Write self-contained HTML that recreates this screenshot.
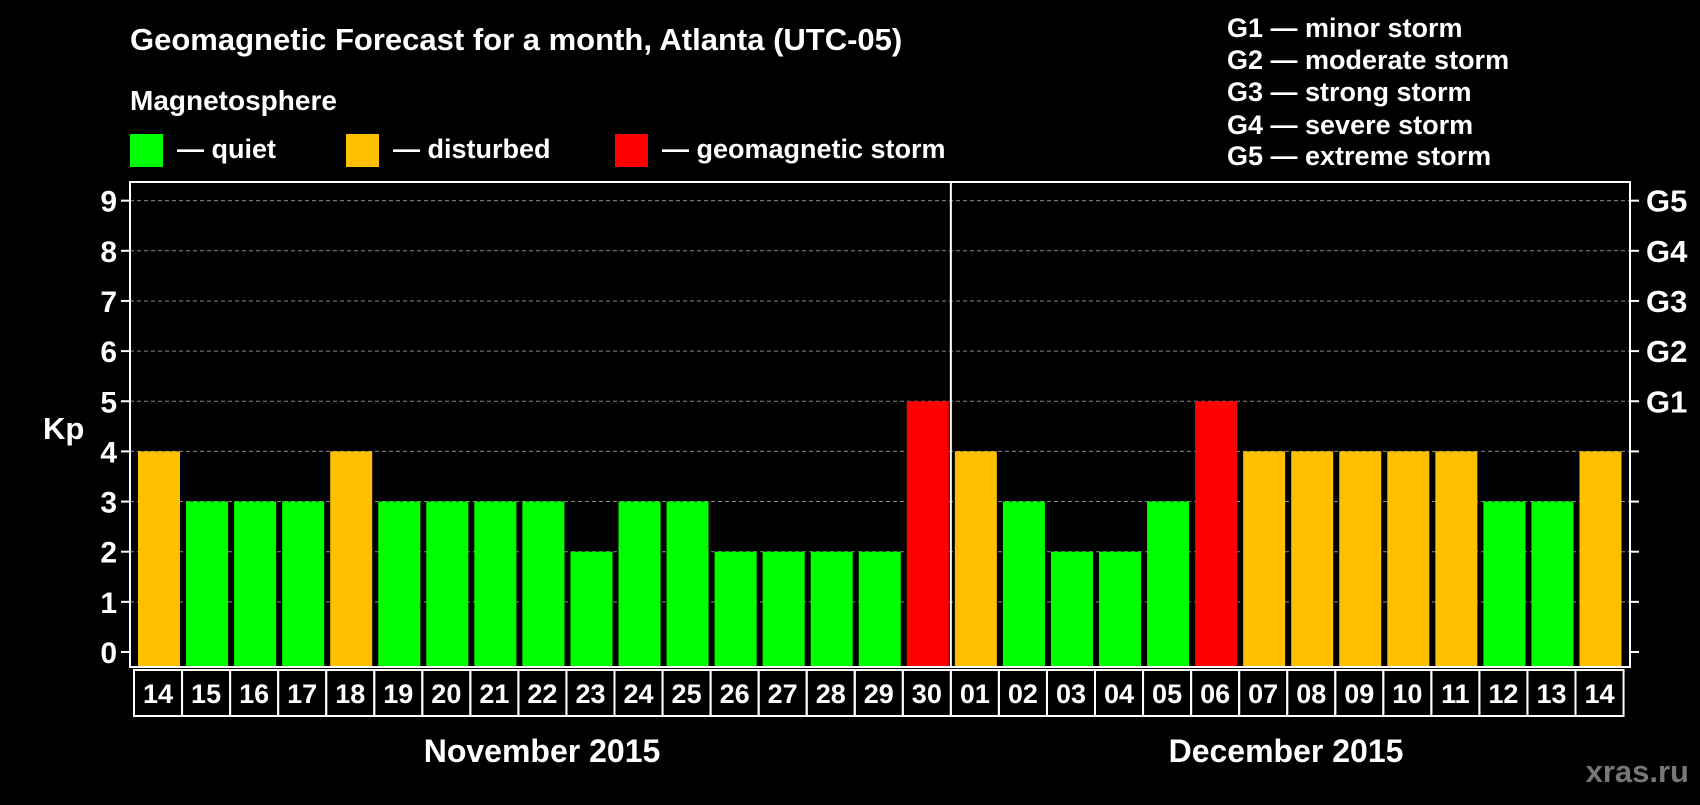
<!DOCTYPE html>
<html><head><meta charset="utf-8"><style>
body{margin:0;background:#000;width:1700px;height:800px;overflow:hidden}
svg text{font-family:"Liberation Sans",sans-serif;font-weight:bold;fill:#fff}
</style></head><body>
<svg id="chart" width="1700" height="800" xmlns="http://www.w3.org/2000/svg">
<rect width="1700" height="800" fill="#000"/>
<text x="130" y="50" font-size="31">Geomagnetic Forecast for a month, Atlanta (UTC-05)</text>
<text x="130" y="110" font-size="28">Magnetosphere</text>
<rect x="130" y="134" width="33" height="33" fill="#00ff00"/>
<text x="177" y="158" font-size="27">— quiet</text>
<rect x="346" y="134" width="33" height="33" fill="#ffc000"/>
<text x="393" y="158" font-size="27">— disturbed</text>
<rect x="615" y="134" width="33" height="33" fill="#ff0000"/>
<text x="662" y="158" font-size="27">— geomagnetic storm</text>
<g font-size="27">
<text x="1227" y="37">G1 — minor storm</text>
<text x="1227" y="69">G2 — moderate storm</text>
<text x="1227" y="101">G3 — strong storm</text>
<text x="1227" y="134">G4 — severe storm</text>
<text x="1227" y="165">G5 — extreme storm</text>
</g>
<text x="43" y="439" font-size="31">Kp</text>
<text x="542" y="762" font-size="32" text-anchor="middle">November 2015</text>
<text x="1286" y="762" font-size="32" text-anchor="middle">December 2015</text>
<text x="1689" y="782" font-size="31" text-anchor="end" style="fill:#777">xras.ru</text>
<g id="plot"></g>
</svg>
<script>
const days=["14","15","16","17","18","19","20","21","22","23","24","25","26","27","28","29","30","01","02","03","04","05","06","07","08","09","10","11","12","13","14"];
const kp=[4,3,3,3,4,3,3,3,3,2,3,3,2,2,2,2,5,4,3,2,2,3,5,4,4,4,4,4,3,3,4];
const yTicks=[0,1,2,3,4,5,6,7,8,9];
const gLabels=["G1","G2","G3","G4","G5"];
const L=130,R=1630,T=182,B=667,Y0=652,UNIT=50.15;
const n=days.length,pitch=48.05,BX0=134;
const y=v=>Y0-v*UNIT, x=i=>BX0+i*pitch;
const g=document.getElementById('plot');
const NS="http://www.w3.org/2000/svg";
function mk(t,a){const e=document.createElementNS(NS,t);for(const k in a)e.setAttribute(k,a[k]);g.appendChild(e);return e;}
yTicks.forEach(v=>{
 if(v>0){const l=mk('line',{x1:L,x2:R,y1:y(v),y2:y(v),stroke:'#888','stroke-dasharray':'4,3','stroke-width':1});
 
 }
 const t=mk('line',{x1:L-9,x2:L,y1:y(v),y2:y(v),stroke:'#fff','stroke-width':2});
 
 
 const t2=mk('line',{x1:R,x2:R+9,y1:y(v),y2:y(v),stroke:'#fff','stroke-width':2});
 
 
 const tx=mk('text',{x:L-13,y:y(v)+11,'font-size':30,'text-anchor':'end'});tx.textContent=v;
 
 
});
gLabels.forEach((s,i)=>{const tx=mk('text',{x:R+16,y:y(5+i)+11,'font-size':31});tx.textContent=s;
 
 });
kp.forEach((v,i)=>{
 const c=v>=5?'#ff0000':v>=4?'#ffc000':'#00ff00';
 const r=mk('rect',{x:x(i)+4,y:y(v),width:42,height:B-y(v),fill:c});
 
 
 const b=mk('rect',{x:x(i),y:670,width:pitch,height:46,fill:'none',stroke:'#fff','stroke-width':2});
 
 
 const tx=mk('text',{x:x(i)+pitch/2,y:703,'font-size':27,'text-anchor':'middle'});tx.textContent=days[i];
 
 
});
const fr=mk('rect',{x:L,y:T,width:R-L,height:B-T,fill:'none',stroke:'#fff','stroke-width':2});


const dv=mk('line',{x1:x(17),x2:x(17),y1:T,y2:B,stroke:'#fff','stroke-width':2});


</script>
</body></html>
